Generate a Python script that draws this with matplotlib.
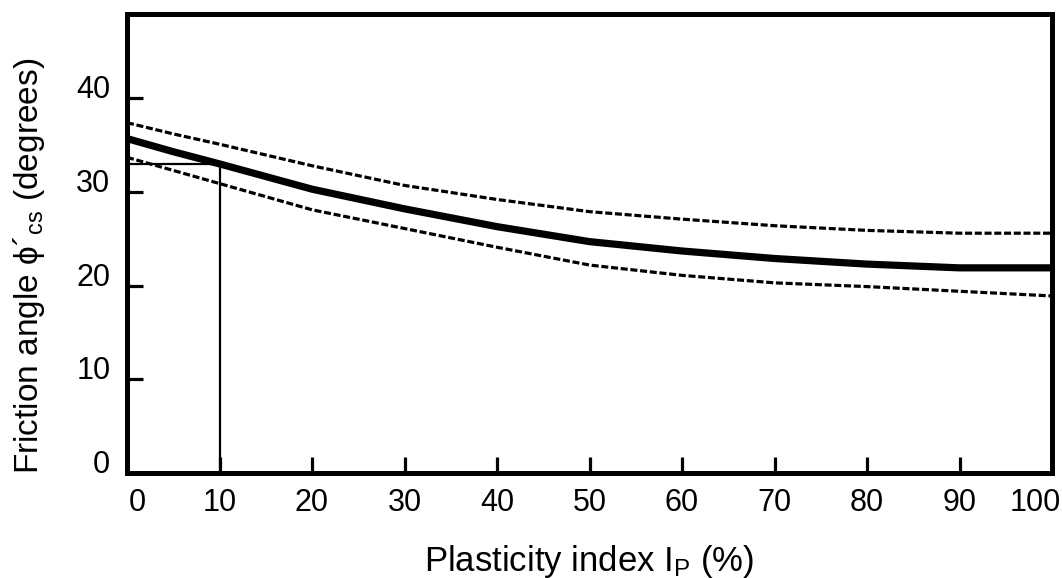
import numpy as np
import matplotlib
matplotlib.use("Agg")
import matplotlib.pyplot as plt
import matplotlib.transforms as mtransforms

plt.rcParams['font.family'] = ['Liberation Sans', 'DejaVu Sans']
plt.rcParams['mathtext.fontset'] = 'custom'
plt.rcParams['mathtext.rm'] = 'Liberation Sans'
plt.rcParams['mathtext.it'] = 'Liberation Sans:italic'

# plasticity index (%) and friction angle (degrees)
ip = [0, 5, 10, 20, 30, 40, 50, 60, 70, 80, 90, 100]
phi_mean = [35.7, 34.3, 33.0, 30.3, 28.2, 26.3, 24.7, 23.7, 22.9, 22.3, 21.9, 21.9]
phi_upper = [37.4, 36.2, 35.1, 32.8, 30.7, 29.2, 27.9, 27.1, 26.4, 25.9, 25.6, 25.6]
phi_lower = [33.7, 32.3, 30.9, 28.1, 26.1, 24.1, 22.2, 21.1, 20.3, 19.9, 19.4, 18.9]

# worked example: Ip = 10 % -> phi'cs = 33
ip_example = 10
phi_example = 33

xticks = [0, 10, 20, 30, 40, 50, 60, 70, 80, 90, 100]
yticks = [0, 10, 20, 30, 40]

W, H = 1062, 578
fig = plt.figure(figsize=(W / 100, H / 100), dpi=100)
ax = fig.add_axes([127 / W, 1 - 473 / H, (1052 - 127) / W, (473 - 14) / H])

ax.plot(ip, phi_upper, color='k', lw=2.3, ls=(0, (2.2, 0.85)))
ax.plot(ip, phi_lower, color='k', lw=2.3, ls=(0, (2.2, 0.85)))
ax.plot(ip, phi_mean, color='k', lw=5.2, solid_capstyle='butt', zorder=4)

ax.plot([0, ip_example], [phi_example, phi_example], color='k', lw=1.6)
ax.plot([ip_example, ip_example], [0, phi_example], color='k', lw=1.6)

ax.set_xlim(0, 100)
ax.set_ylim(0, 49)

for s in ax.spines.values():
    s.set_linewidth(3.6)

ax.set_xticks(xticks)
ax.set_yticks(yticks)
ax.tick_params(direction='in', length=11.5, width=2.3, labelsize=22, color='k')
ax.tick_params(axis='x', pad=11)
ax.tick_params(axis='y', pad=12)
for lab in ax.get_yticklabels():
    lab.set_va('baseline')

xlabs = ax.get_xticklabels()
xlabs[0].set_transform(xlabs[0].get_transform() + mtransforms.ScaledTranslation(10 / 100, 0, fig.dpi_scale_trans))
xlabs[-1].set_transform(xlabs[-1].get_transform() + mtransforms.ScaledTranslation(-17 / 100, 0, fig.dpi_scale_trans))

fig.text(589.5 / W, 1 - 571 / H, r"Plasticity index I$_{\mathrm{P}}$ (%)", fontsize=25,
         ha='center', va='baseline')
fig.text(29 / W, 1 - 266 / H, "Friction angle \u03d5\u00b4$_{\\mathrm{cs}}$ (degrees)", fontsize=24,
         rotation=90, ha='center', va='center')

fig.savefig("out.png", dpi=100)
